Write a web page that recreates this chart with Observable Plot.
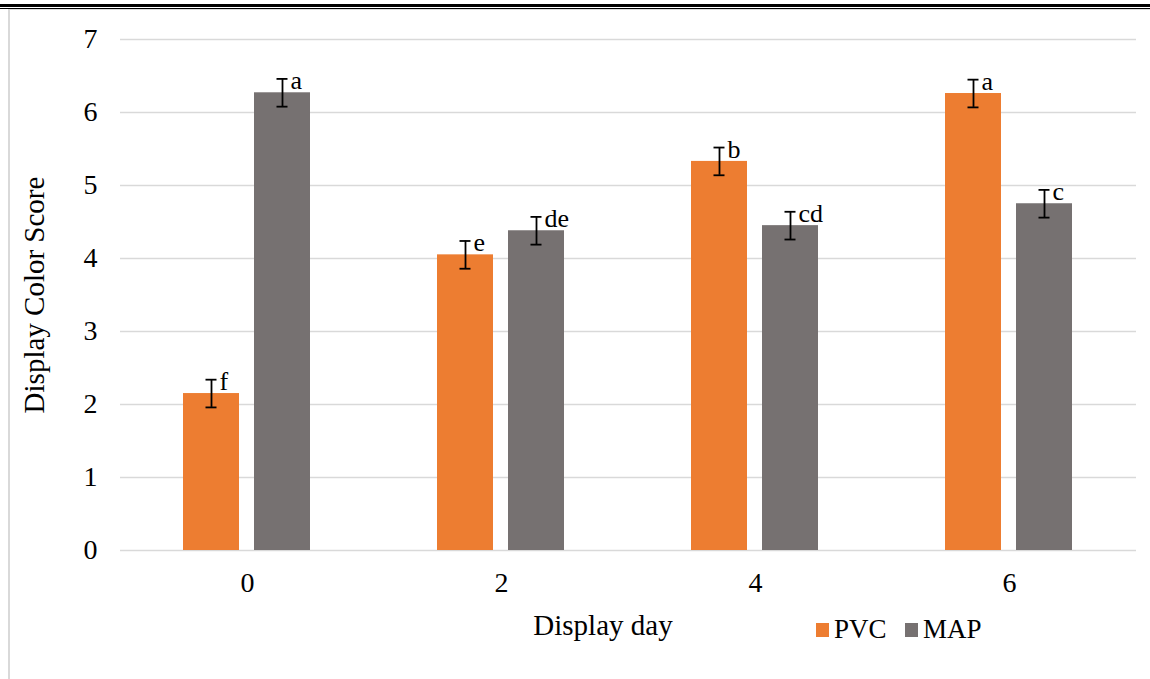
<!DOCTYPE html>
<html>
<head>
<meta charset="utf-8">
<script src="https://cdn.jsdelivr.net/npm/d3@7"></script>
<script src="https://cdn.jsdelivr.net/npm/@observablehq/plot@0.6"></script>
<style>
  html, body { margin: 0; padding: 0; background: #fff; }
  #wrap { position: relative; width: 1150px; height: 679px; overflow: hidden; }
  .rule-thick { position: absolute; left: 0; right: 0; top: 4px; height: 3px; background: #000; }
  .rule-thin { position: absolute; left: 0; right: 0; top: 8px; height: 1px; background: #000; }
  .box { position: absolute; left: 8px; top: 9px; width: 1200px; height: 700px;
         border-left: 2px solid #d9d9d9; border-top: 1px solid #d9d9d9; }
  #chart { position: absolute; left: 0; top: 0; }
  #chart svg [aria-label^="y-axis"] text,
  #chart svg [aria-label^="fx-axis"] text { font-size: 28px; }
</style>
</head>
<body>
<div id="wrap">
  <div class="box"></div>
  <div class="rule-thick"></div>
  <div class="rule-thin"></div>
  <div id="chart"></div>
</div>
<script>
// Display day (x categories) and packaging series
const days = ["0", "2", "4", "6"];
const series = ["PVC", "MAP"];
const colors = ["#ED7D31", "#767171"];

// Mean display colour scores with standard errors
const pvcValues = [2.15, 4.05, 5.33, 6.26];
const mapValues = [6.27, 4.38, 4.45, 4.75];
const pvcErr = [0.19, 0.19, 0.19, 0.19];
const mapErr = [0.19, 0.19, 0.19, 0.19];

// Significance letters
const pvcLetters = ["f", "e", "b", "a"];
const mapLetters = ["a", "de", "cd", "c"];

const yTicks = [0, 1, 2, 3, 4, 5, 6, 7];

const data = days.flatMap((d, i) => [
  {day: d, series: "PVC", value: pvcValues[i], err: pvcErr[i], letter: pvcLetters[i]},
  {day: d, series: "MAP", value: mapValues[i], err: mapErr[i], letter: mapLetters[i]}
]);
const lo = d => d.value - d.err;
const hi = d => d.value + d.err;

const chart = Plot.plot({
  width: 1150,
  height: 679,
  marginTop: 39,
  marginBottom: 129,
  marginLeft: 118,
  marginRight: 13,
  style: {fontFamily: "'Liberation Serif', 'Times New Roman', serif", fontSize: "28px", background: "transparent", color: "#000"},
  fx: {domain: days, padding: 0, label: null, tickSize: 0, tickPadding: 22},
  x: {domain: series, paddingInner: 0.208, paddingOuter: 0.873, axis: null},
  y: {domain: [0, 7], ticks: yTicks, tickFormat: d => String(d), label: null, tickSize: 0, tickPadding: 23},
  color: {domain: series, range: colors},
  marks: [
    Plot.ruleY(yTicks, {stroke: "#d9d9d9", strokeWidth: 1.5}),
    Plot.barY(data, {fx: "day", x: "series", y: "value", fill: "series"}),
    Plot.ruleX(data, {fx: "day", x: "series", y1: lo, y2: hi, stroke: "#000", strokeWidth: 1.8}),
    Plot.tickY(data, {fx: "day", x: "series", y: lo, insetLeft: 22.5, insetRight: 22.5, stroke: "#000", strokeWidth: 1.8}),
    Plot.tickY(data, {fx: "day", x: "series", y: hi, insetLeft: 22.5, insetRight: 22.5, stroke: "#000", strokeWidth: 1.8}),
    Plot.text(data, {fx: "day", x: "series", y: hi, text: "letter", textAnchor: "start", lineAnchor: "bottom", dx: 8, dy: 10, fontSize: 26, fill: "#000"})
  ]
});

document.getElementById("chart").appendChild(chart);

// Axis titles and legend drawn into the same SVG
const svg = d3.select(chart);
const font = "'Liberation Serif', 'Times New Roman', serif";

svg.append("text")
  .attr("transform", "translate(34,295) rotate(-90)")
  .attr("text-anchor", "middle")
  .attr("dy", "0.35em")
  .attr("font-family", font)
  .attr("font-size", 29)
  .attr("fill", "#000")
  .text("Display Color Score");

svg.append("text")
  .attr("x", 603)
  .attr("y", 635)
  .attr("text-anchor", "middle")
  .attr("font-family", font)
  .attr("font-size", 29)
  .attr("fill", "#000")
  .text("Display day");

const color = chart.scale("color");
const legendX = [816, 905];
series.forEach((s, i) => {
  const g = svg.append("g").attr("transform", `translate(${legendX[i]},623)`);
  g.append("rect").attr("width", 13).attr("height", 14).attr("fill", color.apply(s));
  g.append("text")
    .attr("x", 18)
    .attr("y", 15)
    .attr("text-anchor", "start")
    .attr("font-family", font)
    .attr("font-size", 27)
    .attr("fill", "#000")
    .text(s);
});
</script>
</body>
</html>
